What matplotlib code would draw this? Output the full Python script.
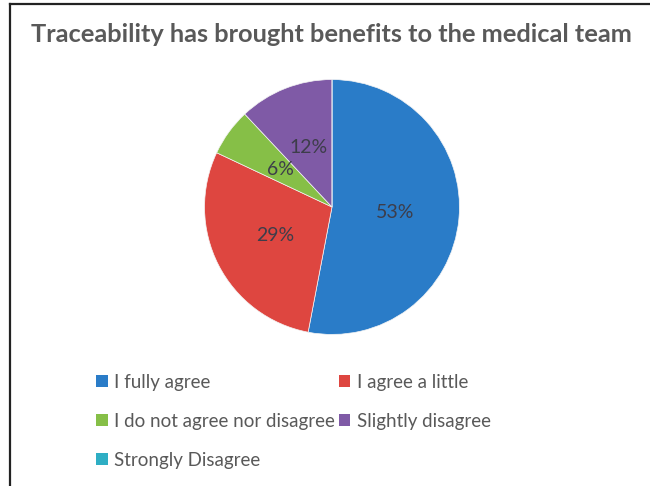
import matplotlib.pyplot as plt
from matplotlib.patches import Patch

plt.rcParams['font.family'] = ['Lato', 'DejaVu Sans']

categories = ['I fully agree', 'I agree a little', 'I do not agree nor disagree',
              'Slightly disagree', 'Strongly Disagree']
shares = [53, 29, 6, 12, 0]
colors = ['#2a7cc8', '#de4640', '#86bf47', '#7f5aa6', '#2eaec4']
text_gray = '#595959'

fig = plt.figure(figsize=(6.5, 4.86), dpi=100)
W, H = 650, 486

# thin frame on left and top like the cropped screenshot
fig.add_artist(plt.Line2D([10/W, 10/W], [0, 1 - 4/H], color='#222222', lw=1.6))
fig.add_artist(plt.Line2D([10/W, 1], [1 - 4/H, 1 - 4/H], color='#222222', lw=1.6))

fig.text(331/W, 1 - 34/H, 'Traceability has brought benefits to the medical team',
         ha='center', va='center', fontsize=18.3, fontweight='bold', color=text_gray)

cx, cy, r = 332, 207, 130
ax = fig.add_axes([(cx - r)/W, 1 - (cy + r)/H, 2*r/W, 2*r/H])
wedges, texts, autotexts = ax.pie(
    shares, colors=colors, startangle=90, counterclock=False,
    autopct=lambda p: f'{p:.0f}%' if p > 0 else '', pctdistance=0.5,
    wedgeprops=dict(linewidth=0.5, edgecolor='#f4f4f4'),
    textprops=dict(fontsize=14, color='#3d3d4a'))
ax.set_xlim(-1.02, 1.02); ax.set_ylim(-1.02, 1.02)
ax.set_aspect('equal')
ax.axis('off')

handles = [Patch(facecolor=c, edgecolor='none') for c in colors]
order = [0, 2, 4, 1, 3]
leg = fig.legend([handles[i] for i in order], [categories[i] for i in order],
                 ncol=2, loc='upper left', bbox_to_anchor=(79/W, 1 - 357/H),
                 frameon=False, fontsize=13.5, handlelength=0.62, handleheight=0.62,
                 handletextpad=0.35, labelspacing=1.17, columnspacing=0.2)
for t in leg.get_texts():
    t.set_color(text_gray)

fig.savefig('out.png', dpi=100, facecolor='white')
